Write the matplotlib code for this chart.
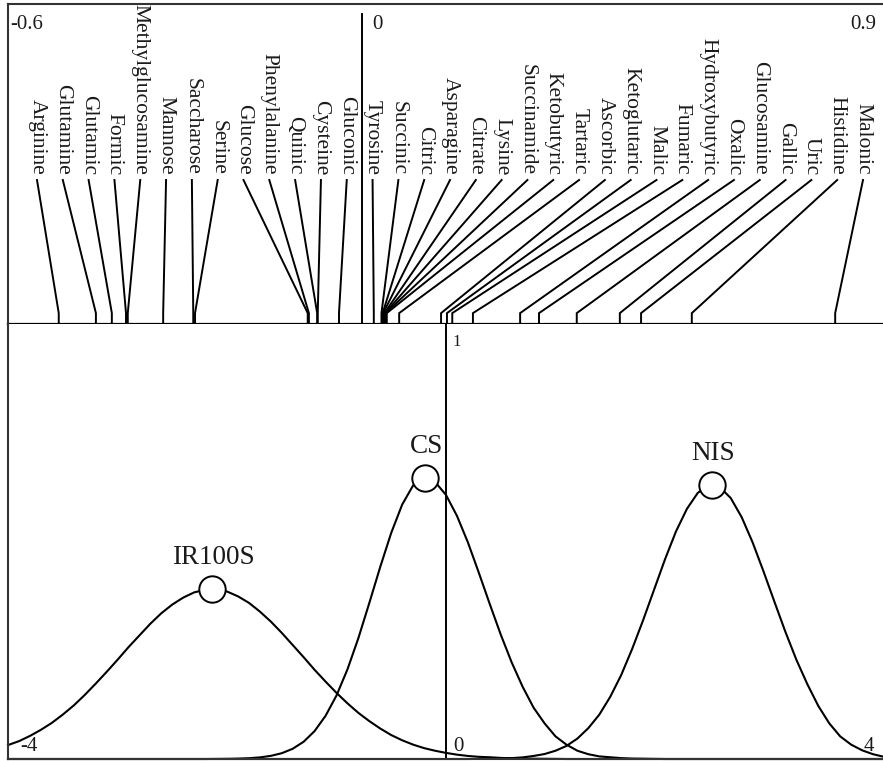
import numpy as np
import matplotlib
matplotlib.use('Agg')
import matplotlib.pyplot as plt

# compound loadings (top panel), ordered as the labels appear left to right
compounds = ["Arginine", "Glutamine", "Glutamic", "Formic", "Methylglucosamine",
	"Mannose", "Saccharose", "Serine", "Glucose", "Phenylalanine", "Quinic",
	"Cysteine", "Gluconic", "Tyrosine", "Succinic", "Citric", "Asparagine",
	"Citrate", "Lysine", "Succinamide", "Ketobutyric", "Tartaric", "Ascorbic",
	"Ketoglutaric", "Malic", "Fumaric", "Hydroxybutyric", "Oxalic",
	"Glucosamine", "Gallic", "Uric", "Histidine", "Malonic"]
loadings = [-0.514, -0.451, -0.424, -0.400, -0.397, -0.337, -0.286, -0.283,
	-0.092, -0.090, -0.076, -0.075, -0.039, 0.020, 0.033, 0.035, 0.036,
	0.038, 0.039, 0.040, 0.042, 0.063, 0.134, 0.144, 0.153, 0.188, 0.268,
	0.300, 0.364, 0.437, 0.473, 0.559, 0.802]

# score distributions (bottom panel), sampled every 0.1 from -4 to 4
score_x = [-4.0, -3.9, -3.8, -3.7, -3.6, -3.5, -3.4, -3.3, -3.2, -3.1,
	-3.0, -2.9, -2.8, -2.7, -2.6, -2.5, -2.4, -2.3, -2.2, -2.1,
	-2.0, -1.9, -1.8, -1.7, -1.6, -1.5, -1.4, -1.3, -1.2, -1.1,
	-1.0, -0.9, -0.8, -0.7, -0.6, -0.5, -0.4, -0.3, -0.2, -0.1,
	0.0, 0.1, 0.2, 0.3, 0.4, 0.5, 0.6, 0.7, 0.8, 0.9,
	1.0, 1.1, 1.2, 1.3, 1.4, 1.5, 1.6, 1.7, 1.8, 1.9,
	2.0, 2.1, 2.2, 2.3, 2.4, 2.5, 2.6, 2.7, 2.8, 2.9,
	3.0, 3.1, 3.2, 3.3, 3.4, 3.5, 3.6, 3.7, 3.8, 3.9, 4.0]
ir100s = [0.032, 0.041, 0.053, 0.067, 0.083, 0.102, 0.123, 0.147, 0.173, 0.200,
	0.228, 0.257, 0.284, 0.311, 0.335, 0.355, 0.371, 0.383, 0.389, 0.390,
	0.385, 0.374, 0.359, 0.339, 0.316, 0.290, 0.262, 0.234, 0.205, 0.178,
	0.152, 0.128, 0.106, 0.087, 0.070, 0.055, 0.043, 0.033, 0.025, 0.019,
	0.014, 0.010, 0.007, 0.005, 0.004, 0.0025, 0.0017, 0.0011, 0.0007, 0.0005,
	0.0003, 0, 0, 0, 0, 0, 0, 0, 0, 0,
	0, 0, 0, 0, 0, 0, 0, 0, 0, 0,
	0, 0, 0, 0, 0, 0, 0, 0, 0, 0, 0]
cs = [0, 0, 0, 0, 0, 0, 0, 0, 0, 0,
	0, 0, 0, 0, 0, 0, 0, 0, 0, 0.0002,
	0.0004, 0.0009, 0.0018, 0.0037, 0.0072, 0.0133, 0.0235, 0.0397, 0.0642, 0.0992,
	0.146, 0.206, 0.278, 0.359, 0.442, 0.520, 0.585, 0.629, 0.646, 0.637,
	0.607, 0.559, 0.498, 0.428, 0.356, 0.286, 0.222, 0.166, 0.118, 0.082,
	0.052, 0.033, 0.019, 0.011, 0.006, 0.004, 0.002, 0.001, 0.0007, 0.0003,
	0, 0, 0, 0, 0, 0, 0, 0, 0, 0,
	0, 0, 0, 0, 0, 0, 0, 0, 0, 0, 0]
nis = [0, 0, 0, 0, 0, 0, 0, 0, 0, 0,
	0, 0, 0, 0, 0, 0, 0, 0, 0, 0,
	0, 0, 0, 0, 0, 0, 0, 0, 0, 0,
	0, 0, 0, 0, 0, 0, 0, 0, 0, 0,
	0, 0, 0, 0.0002, 0.0005, 0.0011, 0.002, 0.0037, 0.007, 0.0114,
	0.019, 0.030, 0.047, 0.071, 0.102, 0.143, 0.193, 0.253, 0.319, 0.389,
	0.459, 0.523, 0.575, 0.612, 0.629, 0.625, 0.600, 0.556, 0.498, 0.431,
	0.361, 0.292, 0.228, 0.172, 0.122, 0.082, 0.052, 0.033, 0.020, 0.011, 0.005]
group_names = ["IR100S", "CS", "NIS"]
peak_x = [-2.14, -0.19, 2.43]
peak_y = [0.39, 0.646, 0.63]

W, H = 883, 761
FRAME = '#333333'

def figPos(px, py):
	return px / W, 1 - py / H

def drawLoadings(ax):
	ax.set_xlim(-0.6, 0.9)
	ax.set_ylim(0, 1)
	# labels evenly spread between x=37px and x=863px
	labelX = np.linspace(-0.6 + 29 / 590, -0.6 + 855 / 590, len(compounds))
	for name, lx, val in zip(compounds, labelX, loadings):
		ax.plot([lx, val, val], [0.45, 0.034, 0], color='k', lw=1.4,
			solid_joinstyle='miter', clip_on=False)
		ax.text(lx, 0.466, name, rotation=-90, ha='center', va='bottom', fontsize=15.5)
	ax.plot([0, 0], [0, 0.969], color='k', lw=1.4)
	for side in ['left', 'top']:
		ax.spines[side].set_color(FRAME)
		ax.spines[side].set_linewidth(1.5)
	ax.spines['bottom'].set_color('k')
	ax.spines['bottom'].set_linewidth(1.6)
	ax.spines['right'].set_visible(False)
	ax.set_xticks([])
	ax.set_yticks([])

def drawScores(ax):
	ax.set_xlim(-4, 4)
	ax.set_ylim(0, 1)
	for curve in [ir100s, cs, nis]:
		ax.plot(score_x, curve, color='k', lw=1.5, clip_on=False)
	ax.axvline(0, color='k', lw=1.4)
	ax.plot(peak_x, peak_y, linestyle='none', marker='o', markersize=19,
		markerfacecolor='white', markeredgecolor='k', markeredgewidth=1.4, zorder=5)
	for name, x, y in zip(group_names, peak_x, peak_y):
		ax.annotate(name, (x, y), xytext=(1, 18), textcoords='offset points',
			ha='center', va='baseline', fontsize=19.5)
	for side in ['left', 'bottom']:
		ax.spines[side].set_color(FRAME)
		ax.spines[side].set_linewidth(1.5)
	ax.spines['top'].set_visible(False)
	ax.spines['right'].set_visible(False)
	ax.set_xticks([])
	ax.set_yticks([])

def main():
	plt.rcParams['font.family'] = 'Liberation Serif'
	plt.rcParams['text.color'] = '#1a1a1a'
	fig = plt.figure(figsize=(W / 100, H / 100), dpi=100)
	axTop = fig.add_axes([8 / W, 1 - 324 / H, 885 / W, 320 / H])
	axBot = fig.add_axes([8 / W, 1 - 759 / H, 876 / W, 435 / H])
	drawScores(axBot)
	drawLoadings(axTop)

	fig.text(*figPos(10, 29), "-0.6", ha='left', va='baseline', fontsize=15)
	fig.text(*figPos(372, 29), "0", ha='left', va='baseline', fontsize=15)
	fig.text(*figPos(876, 29), "0.9", ha='right', va='baseline', fontsize=15)
	fig.text(*figPos(452, 346), "1", ha='left', va='baseline', fontsize=12)
	fig.text(*figPos(453, 751), "0", ha='left', va='baseline', fontsize=15)
	fig.text(*figPos(20, 751), "-4", ha='left', va='baseline', fontsize=15)
	fig.text(*figPos(874, 751), "4", ha='right', va='baseline', fontsize=15)

	fig.savefig("out.png", dpi=100)

if __name__ == "__main__":
	main()
